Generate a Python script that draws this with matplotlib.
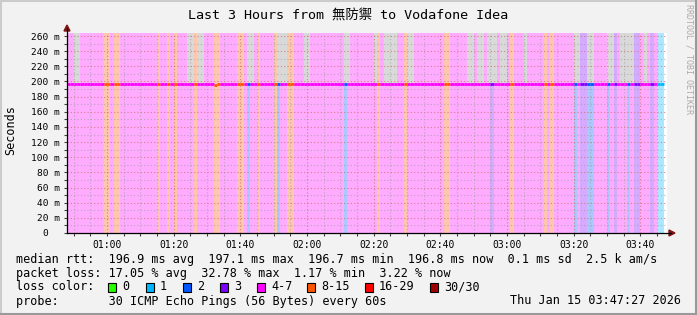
import matplotlib
matplotlib.use("Agg")
import numpy as np
import matplotlib.pyplot as plt
from matplotlib.colors import to_rgb
from matplotlib.patches import Polygon, Rectangle
from matplotlib.lines import Line2D

# lost pings (out of 30) per minute, starting 00:48
loss = [
    5, 5, 5, 5, 5, 5, 5, 5, 5, 5,
    5, 10, 10, 5, 10, 10, 5, 5, 5, 5,
    5, 5, 5, 5, 5, 5, 5, 10, 5, 5,
    10, 5, 10, 5, 5, 5, 5, 5, 10, 5,
    5, 5, 5, 5, 10, 10, 5, 5, 5, 5,
    5, 10, 10, 5, 2, 5, 5, 10, 5, 5,
    5, 5, 10, 2, 5, 5, 10, 10, 5, 5,
    5, 5, 5, 5, 5, 5, 5, 5, 5, 5,
    5, 5, 5, 2, 5, 5, 5, 5, 5, 5,
    5, 5, 5, 10, 5, 5, 5, 5, 5, 5,
    5, 10, 5, 5, 5, 5, 5, 5, 5, 5,
    5, 5, 5, 10, 10, 5, 5, 5, 5, 5,
    5, 5, 5, 5, 5, 5, 5, 3, 5, 5,
    5, 5, 5, 10, 5, 5, 5, 5, 5, 5,
    5, 5, 5, 10, 5, 10, 5, 5, 5, 5,
    5, 5, 2, 5, 3, 3, 2, 2, 5, 5,
    5, 5, 2, 5, 3, 5, 5, 5, 2, 5,
    3, 3, 5, 5, 5, 3, 5, 1, 1,
]

# median rtt per minute (ms)
median = [
    197.0, 197.0, 197.0, 197.0, 197.0, 197.0, 197.0, 197.0, 197.0, 197.0,
    197.0, 197.0, 197.0, 197.0, 197.0, 197.0, 197.0, 197.0, 197.0, 197.0,
    197.0, 197.0, 197.0, 197.0, 197.0, 197.0, 197.0, 197.0, 197.0, 197.0,
    197.0, 197.0, 197.0, 197.0, 197.0, 197.0, 197.0, 197.0, 197.0, 197.0,
    197.0, 197.0, 197.0, 197.0, 196.0, 196.8, 197.0, 197.0, 196.2, 196.2,
    196.6, 197.0, 197.0, 197.0, 197.0, 196.4, 196.4, 197.0, 196.4, 196.4,
    196.6, 197.0, 197.0, 197.0, 197.0, 197.0, 197.0, 197.0, 197.0, 197.0,
    197.0, 197.0, 197.0, 197.0, 197.0, 197.0, 197.0, 197.0, 197.0, 197.0,
    197.0, 197.0, 197.0, 197.0, 197.0, 197.0, 197.0, 197.0, 197.0, 197.0,
    197.0, 197.0, 197.0, 197.0, 197.0, 197.0, 197.0, 197.0, 197.0, 197.0,
    197.0, 197.0, 197.0, 197.0, 197.0, 197.0, 197.0, 197.0, 197.0, 197.0,
    197.0, 197.0, 197.0, 197.0, 197.0, 197.0, 197.0, 197.0, 197.0, 197.0,
    197.0, 197.0, 197.0, 197.0, 197.0, 197.0, 197.0, 197.0, 197.0, 197.0,
    197.0, 197.0, 197.0, 197.0, 197.0, 197.0, 197.0, 197.0, 197.0, 197.0,
    197.0, 197.0, 197.0, 197.0, 197.0, 197.0, 197.0, 197.0, 197.0, 197.0,
    197.0, 197.0, 197.0, 197.0, 197.0, 197.0, 197.0, 197.0, 197.0, 197.0,
    197.0, 197.0, 197.0, 197.0, 197.0, 197.0, 197.0, 197.0, 197.0, 197.0,
    197.0, 197.0, 197.0, 197.0, 197.0, 197.0, 197.0, 197.0, 197.0,
]

# highest ping per minute (ms), the smoke goes up to here
rtt_max = [
    198, 198, 300, 300, 198, 198, 198, 198, 198, 198,
    198, 198, 198, 198, 198, 198, 198, 198, 198, 198,
    198, 198, 198, 198, 198, 198, 198, 198, 198, 198,
    198, 198, 198, 198, 198, 198, 300, 300, 198, 300,
    300, 198, 198, 198, 198, 198, 198, 198, 198, 198,
    198, 198, 198, 198, 300, 300, 198, 198, 198, 198,
    198, 198, 198, 300, 300, 300, 198, 198, 198, 198,
    198, 300, 300, 198, 198, 198, 198, 198, 198, 198,
    198, 198, 198, 300, 300, 198, 198, 198, 198, 198,
    198, 198, 300, 198, 198, 300, 300, 300, 300, 198,
    198, 198, 300, 300, 198, 198, 198, 198, 198, 198,
    198, 198, 198, 198, 198, 198, 198, 198, 198, 198,
    300, 300, 198, 300, 300, 198, 300, 300, 300, 198,
    300, 300, 198, 198, 198, 198, 198, 300, 198, 198,
    198, 198, 198, 198, 198, 198, 198, 198, 198, 198,
    198, 198, 300, 300, 198, 198, 300, 300, 198, 198,
    198, 198, 300, 300, 198, 198, 300, 300, 300, 300,
    198, 198, 198, 300, 198, 198, 198, 198, 198,
]

x_labels = ["01:00", "01:20", "01:40", "02:00", "02:20", "02:40", "03:00", "03:20", "03:40"]
x_label_pos = [12, 32, 52, 72, 92, 112, 132, 152, 172]

legend_names = ["0", "1", "2", "3", "4-7", "8-15", "16-29", "30/30"]
legend_colors = ["#26ff00", "#00b8ff", "#0059ff", "#7e00ff", "#ff00ff", "#ff5500", "#ff0000", "#a00000"]


def loss_color(n):
    if n <= 3:
        return legend_colors[n]
    if n <= 7:
        return legend_colors[4]
    if n <= 15:
        return legend_colors[5]
    if n <= 29:
        return legend_colors[6]
    return legend_colors[7]


def light(c, a=0.33):
    r, g, b = to_rgb(c)
    return (1 - a + a * r, 1 - a + a * g, 1 - a + a * b)


W, H = 697, 315
fig = plt.figure(figsize=(W / 100, H / 100), dpi=100, facecolor="#f2f2f2")


def fx(px):
    return px / W


def fy(py):
    return 1 - py / H


mono = "DejaVu Sans Mono"
YTOP = 264

ax = fig.add_axes([fx(67), fy(233), 600 / W, 200 / H])
ax.set_facecolor("white")
ax.set_xlim(0, 180)
ax.set_ylim(0, YTOP)

xs = np.arange(len(loss))
cols = [loss_color(n) for n in loss]
med = np.array(median)
top = np.array(rtt_max)

# loss background
ax.bar(xs, YTOP, width=1, align="edge", color=[light(c) for c in cols],
       linewidth=0, antialiased=False, zorder=1)

# smoke
high = top > med + 2
ax.bar(xs[high], top[high] - (med[high] + 1.3), bottom=med[high] + 1.3, width=1,
       align="edge", color="#d9d9d9", linewidth=0, antialiased=False, zorder=2)

# grid
for y in range(10, YTOP, 10):
    if y % 20 == 0:
        ax.axhline(y, color="#d07070", lw=0.8, ls=(0, (1, 2)), alpha=0.8, zorder=3)
    else:
        ax.axhline(y, color="#a0a0a0", lw=0.8, ls=(0, (1, 2)), alpha=0.7, zorder=3)
for t in range(2, 180, 5):
    if t in x_label_pos:
        ax.axvline(t, color="#d07070", lw=0.8, ls=(0, (1, 2)), alpha=0.8, zorder=3)
    else:
        ax.axvline(t, color="#a0a0a0", lw=0.8, ls=(0, (1, 2)), alpha=0.7, zorder=3)

# median line
ax.hlines(med, xs, xs + 1, colors=cols, lw=2.0, zorder=4)

for s in ax.spines.values():
    s.set_visible(False)

ax.set_xticks(x_label_pos)
ax.set_xticklabels(x_labels, fontsize=7, family=mono)
ax.set_xticks(list(range(2, 180, 5)), minor=True)
yt = list(range(0, 261, 20))
ax.set_yticks(yt)
ax.set_yticklabels(["0  " if v == 0 else f"{v} m" for v in yt], fontsize=6.8, family=mono)
ax.set_yticks(list(range(10, 261, 20)), minor=True)
ax.tick_params(axis="both", which="both", length=2, width=0.8, color="#444444", pad=3)

# axes with arrows
fig.add_artist(Line2D([fx(67), fx(67)], [fy(233), fy(28)], color="black", lw=0.9))
fig.add_artist(Line2D([fx(67), fx(671)], [fy(233), fy(233)], color="black", lw=0.9))
fig.add_artist(Polygon([[fx(64), fy(31)], [fx(70), fy(31)], [fx(67), fy(25)]],
                       closed=True, color="#7f1515", transform=fig.transFigure))
fig.add_artist(Polygon([[fx(669), fy(230)], [fx(669), fy(236)], [fx(675), fy(233)]],
                       closed=True, color="#7f1515", transform=fig.transFigure))

# title and labels
fig.text(0.5, fy(15), "Last 3 Hours from 無防禦 to Vodafone Idea", ha="center", va="center",
         fontsize=9.6, family=[mono, "Noto Sans CJK SC"])
fig.text(fx(11), fy(130), "Seconds", rotation=90, ha="center", va="center",
         fontsize=8.5, family=mono)
fig.text(fx(689), fy(4), "RRDTOOL / TOBI OETIKER", rotation=270, ha="center", va="top",
         fontsize=6, family=mono, color="#aaaaaa")

# legend text
fig.text(fx(16), fy(260), "median rtt:  196.9 ms avg  197.1 ms max  196.7 ms min  196.8 ms now  0.1 ms sd  2.5 k am/s",
         va="center", fontsize=8.5, family=mono)
fig.text(fx(16), fy(273), "packet loss: 17.05 % avg  32.78 % max  1.17 % min  3.22 % now",
         va="center", fontsize=8.5, family=mono)
fig.text(fx(16), fy(287), "loss color:", va="center", fontsize=8.5, family=mono)
box_x = [108, 146, 183, 220, 257, 307, 365, 430]
for bx, name, c in zip(box_x, legend_names, legend_colors):
    fig.add_artist(Rectangle((fx(bx), fy(292)), 8 / W, 9 / H, facecolor=c, edgecolor="black",
                             lw=0.8, transform=fig.transFigure))
    fig.text(fx(bx + 14), fy(287), name, va="center", fontsize=8.5, family=mono)
fig.text(fx(16), fy(301), "probe:       30 ICMP Echo Pings (56 Bytes) every 60s",
         va="center", fontsize=8.5, family=mono)
fig.text(fx(681), fy(301), "Thu Jan 15 03:47:27 2026", ha="right", va="center",
         fontsize=8.5, family=mono)

# frame
fig.add_artist(Line2D([0, 1], [fy(0.5), fy(0.5)], color="#cbcbcb", lw=1.5))
fig.add_artist(Line2D([fx(0.5), fx(0.5)], [0, 1], color="#cbcbcb", lw=1.5))
fig.add_artist(Line2D([0, 1], [fy(314), fy(314)], color="#999999", lw=1.5))
fig.add_artist(Line2D([fx(696), fx(696)], [0, 1], color="#999999", lw=1.5))

fig.savefig("out.png", dpi=100, facecolor=fig.get_facecolor())
